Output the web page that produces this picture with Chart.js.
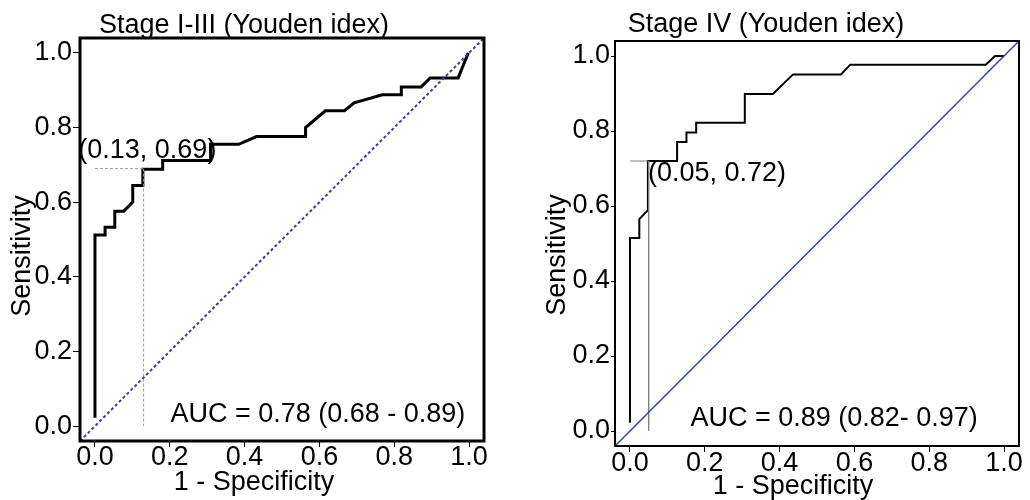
<!DOCTYPE html>
<html>
<head>
<meta charset="utf-8">
<script src="https://cdn.jsdelivr.net/npm/chart.js@4.4.1/dist/chart.umd.min.js"></script>
<style>
    body { margin: 0; background: #fff; }
    #wrap { position: relative; width: 1030px; height: 500px; }
    #roc_left { position: absolute; left: 0; top: 0; }
    #roc_right { position: absolute; left: 530px; top: 0; }
</style>
</head>
<body>
<div id="wrap">
    <canvas id="roc_left" width="515" height="500"></canvas>
    <canvas id="roc_right" width="500" height="500"></canvas>
</div>
<script>
// tick labels shared by both panels
const tickValues = [0, 0.2, 0.4, 0.6, 0.8, 1.0]
const axisRange = [-0.04, 1.04]
const refLine = [-0.04, 1.04] // chance diagonal

// Stage I-III ROC curve
const stage13Fpr = [0, 0, 0.027, 0.027, 0.053, 0.053, 0.077, 0.101, 0.101, 0.128, 0.128, 0.181, 0.181, 0.309, 0.309, 0.384, 0.432, 0.563, 0.563, 0.616, 0.667, 0.693, 0.768, 0.819, 0.819, 0.872, 0.896, 0.971, 0.998]
const stage13Tpr = [0.022, 0.512, 0.512, 0.533, 0.533, 0.576, 0.576, 0.6, 0.645, 0.645, 0.688, 0.688, 0.712, 0.712, 0.755, 0.755, 0.776, 0.776, 0.8, 0.845, 0.845, 0.866, 0.888, 0.888, 0.909, 0.909, 0.933, 0.933, 1.0]
const stage13Cut = [0.13, 0.69]
const stage13Auc = 'AUC = 0.78 (0.68 - 0.89)'

// Stage IV ROC curve
const stage4Fpr = [0, 0, 0.025, 0.025, 0.048, 0.048, 0.126, 0.126, 0.151, 0.151, 0.177, 0.177, 0.307, 0.307, 0.382, 0.436, 0.564, 0.589, 0.951, 0.976, 1.0]
const stage4Tpr = [0.022, 0.515, 0.515, 0.565, 0.589, 0.72, 0.72, 0.771, 0.771, 0.796, 0.796, 0.822, 0.822, 0.899, 0.899, 0.951, 0.951, 0.977, 0.977, 1.0, 1.0]
const stage4Cut = [0.05, 0.72]
const stage4Auc = 'AUC = 0.89 (0.82- 0.97)'

const FONT = "'Liberation Sans', Arial, sans-serif"
const FONT_SIZE = 27

function toPoints(xs, ys) {
    return xs.map((x, i) => ({x: x, y: ys[i]}))
}

function drawRocDecor(chart, opts) {
    const ctx = chart.ctx
    const area = chart.chartArea
    const sx = chart.scales.x
    const sy = chart.scales.y

    ctx.save()
    // frame round the plot
    ctx.strokeStyle = '#000'
    ctx.lineWidth = opts.frameWidth
    ctx.strokeRect(area.left, area.top, area.right - area.left, area.bottom - area.top)

    ctx.fillStyle = '#000'
    ctx.font = FONT_SIZE + 'px ' + FONT

    // title
    ctx.textAlign = 'center'
    ctx.textBaseline = 'alphabetic'
    ctx.fillText(opts.title, opts.titleX, opts.titleY)

    // axis titles
    ctx.textBaseline = 'middle'
    ctx.fillText('1 - Specificity', opts.xTitleX, opts.xTitleY)
    ctx.save()
    ctx.translate(opts.yTitleX, opts.yTitleY)
    ctx.rotate(-Math.PI / 2)
    ctx.fillText('Sensitivity', 0, 0)
    ctx.restore()

    // cut-off label
    ctx.textAlign = opts.cutAlign
    ctx.fillText('(' + opts.cut[0].toFixed(2) + ', ' + opts.cut[1].toFixed(2) + ')',
        sx.getPixelForValue(opts.cutLabelAt[0]), sy.getPixelForValue(opts.cutLabelAt[1]))

    // AUC
    ctx.textAlign = 'right'
    ctx.fillText(opts.auc, sx.getPixelForValue(opts.aucAt[0]), sy.getPixelForValue(opts.aucAt[1]))
    ctx.restore()
}

function makeRocChart(canvasId, opts) {
    const ctx = document.getElementById(canvasId).getContext('2d')
    const tickFont = {family: FONT, size: FONT_SIZE, lineHeight: 1}

    return new Chart(ctx, {
        type: 'scatter',
        data: {
            datasets: [
                {
                    data: toPoints(refLine, refLine),
                    showLine: true,
                    borderColor: opts.refColor,
                    borderWidth: opts.refWidth,
                    borderDash: opts.refDash,
                    pointRadius: 0,
                },
                {
                    data: toPoints([0, opts.cut[0]], [opts.cut[1], opts.cut[1]]),
                    showLine: true,
                    borderColor: opts.cutColor,
                    borderWidth: 1,
                    borderDash: opts.cutDash,
                    pointRadius: 0,
                },
                {
                    data: toPoints([opts.cut[0], opts.cut[0]], [opts.cut[1], 0]),
                    showLine: true,
                    borderColor: opts.cutColor,
                    borderWidth: 1,
                    borderDash: opts.cutDash,
                    pointRadius: 0,
                },
                {
                    data: toPoints(opts.fpr, opts.tpr),
                    showLine: true,
                    borderColor: '#000',
                    borderWidth: opts.curveWidth,
                    pointRadius: 0,
                    tension: 0,
                    borderJoinStyle: 'miter',
                },
            ],
        },
        options: {
            responsive: false,
            animation: false,
            layout: {
                padding: {top: opts.padTop, right: opts.padRight, left: 0, bottom: 0},
            },
            plugins: {
                legend: {display: false},
                tooltip: {enabled: false},
            },
            scales: {
                x: {
                    type: 'linear',
                    min: axisRange[0],
                    max: axisRange[1],
                    afterFit: function (scale) {
                        scale.height = opts.xAxisHeight
                    },
                    afterBuildTicks: function (scale) {
                        scale.ticks = tickValues.map(v => ({value: v}))
                    },
                    grid: {
                        drawOnChartArea: false,
                        drawTicks: true,
                        tickLength: 6,
                        color: '#000',
                        lineWidth: 1,
                    },
                    border: {display: false},
                    ticks: {
                        color: '#000',
                        font: tickFont,
                        padding: opts.xTickPad,
                        maxRotation: 0,
                        callback: v => v.toFixed(1),
                    },
                },
                y: {
                    type: 'linear',
                    min: axisRange[0],
                    max: axisRange[1],
                    afterFit: function (scale) {
                        scale.width = opts.yAxisWidth
                    },
                    afterBuildTicks: function (scale) {
                        scale.ticks = tickValues.map(v => ({value: v}))
                    },
                    grid: {
                        drawOnChartArea: false,
                        drawTicks: true,
                        tickLength: opts.yTickLength,
                        color: '#000',
                        lineWidth: 1,
                    },
                    border: {display: false},
                    ticks: {
                        color: '#000',
                        font: tickFont,
                        padding: 1,
                        callback: v => v.toFixed(1),
                    },
                },
            },
        },
        plugins: [{
            id: 'rocDecor',
            afterDatasetsDraw: chart => drawRocDecor(chart, opts),
        }],
    })
}

makeRocChart('roc_left', {
    fpr: stage13Fpr,
    tpr: stage13Tpr,
    cut: stage13Cut,
    auc: stage13Auc,
    title: 'Stage I-III (Youden idex)',
    titleX: 244, titleY: 33,
    xTitleX: 254, xTitleY: 483,
    yTitleX: 23, yTitleY: 256,
    cutAlign: 'center', cutLabelAt: [0.14, 0.739],
    aucAt: [0.99, 0.032],
    padTop: 38, padRight: 31,
    xAxisHeight: 59, yAxisWidth: 80, yTickLength: 7, xTickPad: -3,
    frameWidth: 3, curveWidth: 3,
    refColor: '#3b3bab', refWidth: 2, refDash: [3, 2.5],
    cutColor: '#9a9a9a', cutDash: [3, 2],
})

makeRocChart('roc_right', {
    fpr: stage4Fpr,
    tpr: stage4Tpr,
    cut: stage4Cut,
    auc: stage4Auc,
    title: 'Stage IV (Youden idex)',
    titleX: 236, titleY: 32,
    xTitleX: 263, xTitleY: 487,
    yTitleX: 28, yTitleY: 255,
    cutAlign: 'left', cutLabelAt: [0.048, 0.686],
    aucAt: [0.93, 0.032],
    padTop: 41, padRight: 11,
    xAxisHeight: 54, yAxisWidth: 85, yTickLength: 4, xTickPad: -2,
    frameWidth: 2, curveWidth: 2,
    refColor: '#3443a6', refWidth: 1.5, refDash: [],
    cutColor: '#808080', cutDash: [],
})
</script>
</body>
</html>
